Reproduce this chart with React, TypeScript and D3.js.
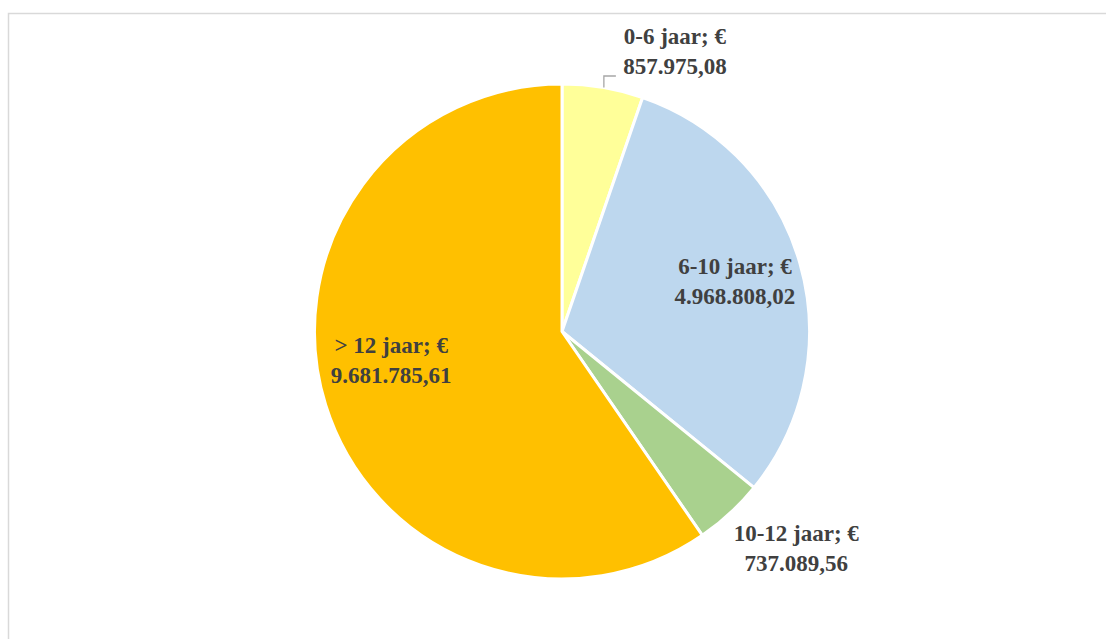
import React, { useEffect, useRef } from 'react';
import * as d3 from 'd3';

// Leeftijdscategorieën en bedragen (in euro)
const categories = ['0-6 jaar', '6-10 jaar', '10-12 jaar', '> 12 jaar'];
const amounts = [857975.08, 4968808.02, 737089.56, 9681785.61];
const amountLabels = ['857.975,08', '4.968.808,02', '737.089,56', '9.681.785,61'];
const colors = ['#FFFF99', '#BDD7EE', '#A9D18E', '#FFC000'];

const W = 1106;
const H = 639;

const App = () => {
    const svgRef = useRef<SVGSVGElement>(null);

    useEffect(() => {
        const svg = d3.select(svgRef.current);
        svg.selectAll('*').remove();

        // chart area frame (runs past the window to the right and bottom)
        svg.append('rect')
            .attr('x', 8.5)
            .attr('y', 13.5)
            .attr('width', W + 20)
            .attr('height', H + 20)
            .attr('fill', '#fff')
            .attr('stroke', '#d9d9d9')
            .attr('stroke-width', 1.5);

        const cx = 562;
        const cy = 331.5;
        const r = 247.5;

        const data = categories.map((c, i) => ({ cat: c, value: amounts[i], label: amountLabels[i], color: colors[i] }));

        const pie = d3.pie<any>().sort(null).value(d => d.value);
        const arcs = pie(data);
        const arc = d3.arc<any>().innerRadius(0).outerRadius(r);

        const g = svg.append('g').attr('transform', `translate(${cx},${cy})`);

        g.selectAll('path')
            .data(arcs)
            .enter()
            .append('path')
            .attr('d', arc)
            .attr('fill', d => d.data.color)
            .attr('stroke', '#fff')
            .attr('stroke-width', 3)
            .attr('stroke-linejoin', 'round');

        const total = d3.sum(amounts);
        const mid = (d: any) => (d.startAngle + d.endAngle) / 2;
        const polar = (a: number, rad: number) => [Math.sin(a) * rad, -Math.cos(a) * rad];

        arcs.forEach((d) => {
            const a = mid(d);
            const inside = d.data.value / total > 0.1;
            let x: number;
            let y: number; // baseline of the first line
            if (inside) {
                [x, y] = polar(a, r * 0.71);
                if (a > Math.PI) {
                    // Excel's best-fit pushes the big slice's label up a bit
                    x -= 3;
                    y -= 22;
                } else {
                    x += 4;
                }
                y -= 9;
            } else if (a < Math.PI / 2) {
                // top label with a leader line
                const [px, py] = polar(a, r);
                x = px + 72;
                y = -r - 40;
                g.append('path')
                    .attr('d', `M${px + 1},${py}V${y + 32}H${px + 13}`)
                    .attr('fill', 'none')
                    .attr('stroke', '#a6a6a6')
                    .attr('stroke-width', 1.3);
            } else {
                [x, y] = polar(a, r * 1.05);
                x += 58;
                y += 19;
            }

            const t = g.append('text')
                .attr('text-anchor', 'middle')
                .attr('font-family', '"Liberation Serif", "Times New Roman", serif')
                .attr('font-weight', 'bold')
                .attr('font-size', 23)
                .attr('fill', '#404040');
            t.append('tspan')
                .attr('x', x)
                .attr('y', y)
                .text(`${d.data.cat}; €`);
            t.append('tspan')
                .attr('x', x)
                .attr('y', y + 30)
                .text(d.data.label);
        });
    }, []);

    return (
        <svg
            ref={svgRef}
            width={W}
            height={H}
            style={{ position: 'fixed', left: 0, top: 0, display: 'block', background: '#fff' }}
        />
    );
};

export default App;
